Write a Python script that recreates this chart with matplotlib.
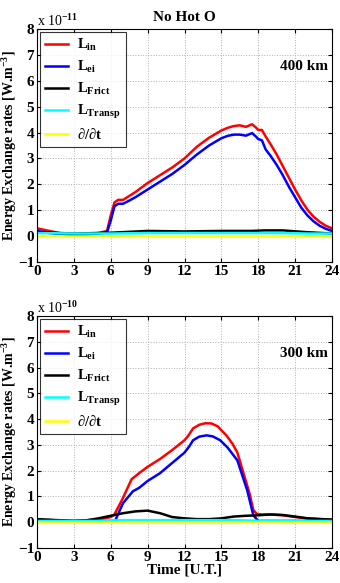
import numpy as np
import matplotlib
matplotlib.use("Agg")
import matplotlib.pyplot as plt

plt.rcParams['font.family'] = ['Liberation Serif', 'DejaVu Serif']
plt.rcParams['font.weight'] = 'bold'
plt.rcParams['mathtext.fontset'] = 'custom'
plt.rcParams['mathtext.rm'] = 'Liberation Serif:bold'
plt.rcParams['mathtext.bf'] = 'Liberation Serif:bold'
plt.rcParams['mathtext.it'] = 'Liberation Serif:bold'

# ---- 400 km (x 1e-11) ----
t_in4 = [0, 1, 2, 3, 4, 5, 5.7, 6.0, 6.3, 6.6, 7, 7.5, 8, 9, 10, 11, 12, 13, 14, 15, 15.5, 16, 16.5, 17, 17.5, 17.8, 18, 18.3, 18.6, 19, 19.5, 20, 20.5, 21, 21.5, 22, 22.5, 23, 23.5, 24]
in4 = [0.3, 0.2, 0.1, 0.05, 0.07, 0.12, 0.2, 0.8, 1.3, 1.4, 1.4, 1.55, 1.7, 2.05, 2.35, 2.65, 3.0, 3.45, 3.8, 4.08, 4.18, 4.25, 4.28, 4.22, 4.32, 4.2, 4.1, 4.1, 3.85, 3.55, 3.15, 2.7, 2.25, 1.8, 1.38, 1.02, 0.75, 0.55, 0.4, 0.3]
ei4 = [0.2, 0.12, 0.08, 0.05, 0.06, 0.1, 0.15, 0.6, 1.15, 1.25, 1.25, 1.37, 1.5, 1.8, 2.1, 2.4, 2.75, 3.15, 3.5, 3.78, 3.87, 3.92, 3.92, 3.88, 3.98, 3.85, 3.75, 3.7, 3.35, 3.1, 2.75, 2.35, 1.9, 1.5, 1.1, 0.8, 0.57, 0.4, 0.28, 0.2]
t_f4 = [0, 3, 6, 9, 12, 15, 17.5, 18.5, 20, 22, 24]
fr4 = [0.15, 0.1, 0.13, 0.2, 0.18, 0.2, 0.2, 0.22, 0.22, 0.15, 0.1]
tr4 = [0.12, 0.1, 0.1, 0.12, 0.12, 0.12, 0.12, 0.12, 0.12, 0.1, 0.1]
dt4 = [0.0] * 11

# ---- 300 km (x 1e-10) ----
t_in3 = [0, 3, 5, 6, 6.3, 6.9, 7.7, 8.3, 9, 10, 11, 12, 12.3, 12.7, 13.2, 13.7, 14.2, 14.7, 15.4, 15.9, 16.3, 16.9, 17.3, 17.6, 17.9, 18.2, 19, 20, 21, 22, 23, 24]
in3 = [0.1, 0.05, 0.1, 0.2, 0.3, 0.85, 1.67, 1.9, 2.15, 2.45, 2.8, 3.18, 3.35, 3.64, 3.78, 3.84, 3.83, 3.72, 3.37, 3.05, 2.7, 1.74, 1.1, 0.47, 0.32, 0.3, 0.3, 0.27, 0.2, 0.15, 0.12, 0.1]
t_ei3 = [0, 3, 6, 6.35, 7.0, 7.8, 8.3, 9, 10, 11, 12, 12.4, 12.7, 13.2, 13.8, 14.3, 14.9, 15.5, 16.3, 17.1, 17.6, 18.0, 24]
ei3 = [0.05, 0.05, 0.05, 0.05, 0.74, 1.2, 1.33, 1.6, 1.9, 2.3, 2.7, 2.95, 3.18, 3.32, 3.37, 3.33, 3.18, 2.9, 2.4, 1.24, 0.27, 0.05, 0.05]
t_f3 = [0, 3, 4, 5, 6, 7, 8, 9, 10, 11, 12, 13, 14, 15, 16, 17, 18, 19, 20, 21, 22, 24]
fr3 = [0.12, 0.05, 0.07, 0.15, 0.25, 0.35, 0.42, 0.45, 0.35, 0.2, 0.15, 0.12, 0.12, 0.15, 0.22, 0.25, 0.27, 0.3, 0.28, 0.22, 0.15, 0.1]
tr3 = [0.05, 0.05, 0.05, 0.05, 0.07, 0.08, 0.08, 0.08, 0.08, 0.08, 0.08, 0.08, 0.08, 0.08, 0.08, 0.07, 0.05, 0.05, 0.05, 0.05, 0.05, 0.05]
dt3 = [0.0] * 22

labels = [r'$\mathbf{L_{in}}$', r'$\mathbf{L_{ei}}$', r'$\mathbf{L_{Frict}}$',
          r'$\mathbf{L_{Transp}}$', r'$\partial/\partial\mathbf{t}$']
colors = ['#ff0000', '#0000ff', '#000000', '#00ffff', '#ffff00']

fig = plt.figure(figsize=(3.4, 5.83), dpi=100)
ax1 = fig.add_axes([37/340, 1 - 262/583, 295/340, 233/583])
ax2 = fig.add_axes([37/340, 1 - 548/583, 295/340, 232/583])

panels = [
    (ax1, [(t_in4, in4), (t_in4, ei4), (t_f4, fr4), (t_f4, tr4), (t_f4, dt4)], '400 km', r'x 10$^{-11}$'),
    (ax2, [(t_in3, in3), (t_ei3, ei3), (t_f3, fr3), (t_f3, tr3), (t_f3, dt3)], '300 km', r'x 10$^{-10}$'),
]

for ax, series, alt, mult in panels:
    for (x, y), c, lab in zip(series, colors, labels):
        ax.plot(x, y, color=c, lw=1.8, label=lab, solid_joinstyle='round')
    ax.set_xlim(0, 24)
    ax.set_ylim(-1, 8)
    ax.set_xticks(range(0, 25, 3))
    ax.set_yticks(range(-1, 9))
    ax.set_yticklabels(['\u22121'] + [str(i) for i in range(0, 9)])
    ax.grid(True, linestyle=':', color='#b0b0b0', lw=0.7)
    ax.tick_params(direction='in', top=True, right=True, labelsize=11, length=3, pad=2)
    for lab in ax.get_xticklabels() + ax.get_yticklabels():
        lab.set_fontweight('bold')
    ax.set_ylabel(r'Energy Exchange rates [W.m$^{-3}$]', fontsize=10, fontweight='bold')
    ax.yaxis.set_label_coords(-0.062, 0.5)
    ax.text(0.985, 0.84, alt, transform=ax.transAxes, ha='right', va='center', fontsize=11, fontweight='bold')
    ax.text(0.0, 1.0, mult, transform=ax.transAxes, ha='left', va='bottom', fontsize=10, fontweight='normal')
    leg = ax.legend(loc='upper left', fontsize=10.5, handlelength=1.6, frameon=True, fancybox=False,
                    borderaxespad=0.2, labelspacing=0.4, handletextpad=0.6, borderpad=0.35)
    leg.get_frame().set_edgecolor('black')
    leg.get_frame().set_linewidth(0.8)

ax1.set_title('No Hot O', fontsize=11, fontweight='bold', pad=6)
ax2.set_xlabel('Time [U.T.]', fontsize=11, fontweight='bold', labelpad=0)

fig.savefig('out.png', dpi=100)
